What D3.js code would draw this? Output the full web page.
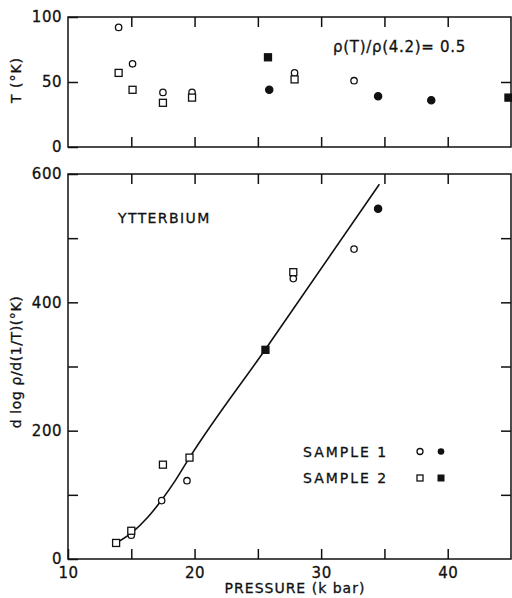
<!DOCTYPE html>
<html><head><meta charset="utf-8">
<script src="https://cdn.jsdelivr.net/npm/d3@7"></script>
<style>
body{margin:0;background:#fff;}
svg{display:block;font-family:"DejaVu Sans",sans-serif;}
</style></head>
<body>
<svg id="c" width="512" height="598"></svg>
<script>
// ---- data ----
// Top panel: T (K) at which rho(T)/rho(4.2)=0.5
const topS1Open   = [[14.0,92],[15.1,64],[17.5,42],[19.8,42],[27.9,57],[32.6,51]];
const topS1Filled = [[25.9,44],[34.5,39],[38.7,36]];
const topS2Open   = [[14.0,57],[15.1,44],[17.5,34],[19.8,38],[27.9,52]];
const topS2Filled = [[25.8,69],[44.8,38]];
// Bottom panel: d log rho / d(1/T) (K)
const botS1Open   = [[15.0,37],[17.4,91],[19.4,122],[27.8,437],[32.6,483]];
const botS1Filled = [[34.5,546]];
const botS2Open   = [[13.8,25],[15.0,44],[17.5,147],[19.6,158],[27.8,447]];
const botS2Filled = [[25.6,326]];
const fitLine     = [[13.8,25],[15.1,42],[16.3,65],[17.4,92],[18.5,123],[19.6,158],[25.6,327],[34.6,584]];
const xTicks = [15,20,25,30,35,40];
const xLabels = [10,20,30,40];
const topYTicks = [0,50,100];
const botYTicks = [0,100,200,300,400,500,600];
const botYLabels = [0,200,400,600];

const svg = d3.select("#c");
const L = 68, R = 511;
const x = d3.scaleLinear().domain([10,45]).range([L,R]);
const yT = d3.scaleLinear().domain([0,100]).range([147,17]);
const yB = d3.scaleLinear().domain([0,600]).range([559,174]);
const TS = 10;

function frame(y){
  svg.append("rect").attr("x",L).attr("y",y.range()[1]).attr("width",R-L)
    .attr("height",y.range()[0]-y.range()[1]).attr("fill","none").attr("stroke","#111").attr("stroke-width",1.5);
}
function styleAxis(g){
  g.select(".domain").remove();
  g.selectAll(".tick line").attr("stroke","#111").attr("stroke-width",1.5);
  g.selectAll(".tick text").attr("fill","#111").attr("stroke","#111").attr("stroke-width",0.3)
    .style("font-size","15px").style("font-family","DejaVu Sans").style("letter-spacing","0.5px");
}
// ---- top panel ----
frame(yT);
svg.append("g").attr("transform",`translate(${L},0)`)
  .call(d3.axisLeft(yT).tickValues(topYTicks).tickSize(-TS).tickPadding(6)).call(styleAxis);
svg.append("g").attr("transform",`translate(${R},0)`)
  .call(d3.axisRight(yT).tickValues([50]).tickSize(-TS).tickFormat("")).call(styleAxis);
svg.append("g").attr("transform",`translate(0,${yT.range()[1]})`)
  .call(d3.axisTop(x).tickValues(xTicks).tickSize(-TS).tickFormat("")).call(styleAxis);
svg.append("g").attr("transform",`translate(0,${yT.range()[0]})`)
  .call(d3.axisBottom(x).tickValues(xTicks).tickSize(-TS).tickFormat("")).call(styleAxis);

// ---- bottom panel ----
frame(yB);
svg.append("g").attr("transform",`translate(${L},0)`)
  .call(d3.axisLeft(yB).tickValues(botYTicks).tickSize(-TS).tickPadding(6)
    .tickFormat(d=>botYLabels.includes(d)?d:"")).call(styleAxis);
svg.append("g").attr("transform",`translate(${R},0)`)
  .call(d3.axisRight(yB).tickValues(botYTicks.slice(1,-1)).tickSize(-TS).tickFormat("")).call(styleAxis);
svg.append("g").attr("transform",`translate(0,${yB.range()[1]})`)
  .call(d3.axisTop(x).tickValues(xTicks).tickSize(-TS).tickFormat("")).call(styleAxis);
svg.append("g").attr("transform",`translate(0,${yB.range()[0]})`)
  .call(d3.axisBottom(x).tickValues(xTicks.concat([10])).tickSize(-TS).tickPadding(8)
    .tickFormat(d=>xLabels.includes(d)?d:"")).call(styleAxis);

// ---- fit line ----
svg.append("path").datum(fitLine)
  .attr("d",d3.line().x(d=>x(d[0])).y(d=>yB(d[1])).curve(d3.curveMonotoneX))
  .attr("fill","none").attr("stroke","#111").attr("stroke-width",1.6);

// ---- markers ----
function circles(data,y,filled){
  svg.append("g").selectAll("circle").data(data).join("circle")
    .attr("cx",d=>x(d[0])).attr("cy",d=>y(d[1])).attr("r",filled?3.6:3.2)
    .attr("fill",filled?"#111":"#fff").attr("stroke","#111").attr("stroke-width",1.3);
}
function squares(data,y,filled){
  const s = 7;
  svg.append("g").selectAll("rect").data(data).join("rect")
    .attr("x",d=>x(d[0])-s/2).attr("y",d=>y(d[1])-s/2).attr("width",s).attr("height",s)
    .attr("fill",filled?"#111":"#fff").attr("stroke","#111").attr("stroke-width",1.3);
}
circles(topS1Open,yT,false); circles(topS1Filled,yT,true);
squares(topS2Open,yT,false); squares(topS2Filled,yT,true);
circles(botS1Open,yB,false); circles(botS1Filled,yB,true);
squares(botS2Open,yB,false); squares(botS2Filled,yB,true);

// ---- texts ----
function txt(s,xx,yy,size,anchor,ls,rot){
  const t = svg.append("text").attr("x",xx).attr("y",yy).text(s)
    .attr("fill","#111").attr("stroke","#111").attr("stroke-width",0.3)
    .style("font-size",size+"px").attr("text-anchor",anchor||"start")
    .attr("dominant-baseline","central").style("letter-spacing",(ls||0)+"px");
  if(rot) t.attr("transform",`rotate(-90,${xx},${yy})`);
  return t;
}
txt("\u03c1(T)/\u03c1(4.2)= 0.5",333,47,15,"start",0.7);
txt("YTTERBIUM",118,218,14,"start",1.4);
txt("PRESSURE (k bar)",295,588,14,"middle",1);
txt("T (\u00b0K)",16,80,14,"middle",1,true);
txt("d log \u03c1/d(1/T)(\u00b0K)",16,362,14,"middle",0.6,true);

// legend
const legY = [451.5,478];
txt("SAMPLE 1",303,legY[0],14,"start",2);
txt("SAMPLE 2",303,legY[1],14,"start",2);
svg.append("circle").attr("cx",420).attr("cy",legY[0]).attr("r",3).attr("fill","#fff").attr("stroke","#111").attr("stroke-width",1.3);
svg.append("circle").attr("cx",441).attr("cy",legY[0]).attr("r",3.3).attr("fill","#111");
svg.append("rect").attr("x",417).attr("y",legY[1]-3).attr("width",6).attr("height",6).attr("fill","#fff").attr("stroke","#111").attr("stroke-width",1.3);
svg.append("rect").attr("x",437.5).attr("y",legY[1]-3.5).attr("width",7).attr("height",7).attr("fill","#111");
</script>
</body></html>
